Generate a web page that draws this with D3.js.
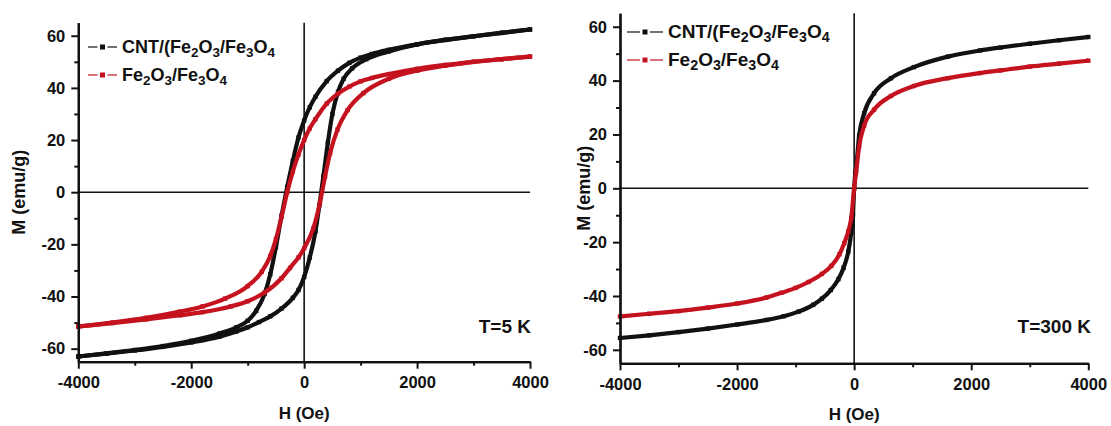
<!DOCTYPE html>
<html>
<head>
<meta charset="utf-8">
<script src="https://cdn.jsdelivr.net/npm/d3@7"></script>
<style>
  body { margin: 0; background: #fff; }
  text { font-family: "Liberation Sans", Arial, sans-serif; font-weight: bold; fill: #111; }
</style>
</head>
<body>
<div id="chart"></div>
<script>
// tick values
var hTicks = [-4000, -2000, 0, 2000, 4000];
var hMinor = [-3000, -1000, 1000, 3000];
var mTicks = [-60, -40, -20, 0, 20, 40, 60];
var mMinor = [-50, -30, -10, 10, 30, 50];

// T = 5 K, CNT/(Fe2O3/Fe3O4), [H (Oe), M (emu/g)]
var cnt5Down = [[4000,62.4],[3500,61.1],[3000,59.8],[2500,58.4],[2000,56.7],[1500,54.6],[1200,53.0],[1000,51.6],[800,49.6],[600,46.6],[400,42.6],[200,36.6],[100,32.6],[0,27.5],[-100,21],[-200,12],[-300,2],[-400,-9],[-500,-21],[-600,-31.5],[-700,-39],[-850,-45.5],[-1000,-49.3],[-1200,-51.8],[-1500,-54.2],[-2000,-57],[-2500,-59],[-3000,-60.5],[-3500,-61.8],[-4000,-63]];
var cnt5Up = [[-4000,-63],[-3500,-61.9],[-3000,-60.7],[-2500,-59.3],[-2000,-57.6],[-1500,-55.4],[-1200,-53.4],[-1000,-51.8],[-800,-49.8],[-600,-47.6],[-400,-44.6],[-200,-40.5],[-100,-37.5],[0,-32.5],[100,-25],[200,-15],[270,-5],[340,6],[420,19],[500,30],[600,38.5],[700,43.5],[850,47.5],[1100,51],[1500,54],[2000,56.7],[2500,58.4],[3000,59.8],[3500,61.1],[4000,62.4]];

// T = 5 K, Fe2O3/Fe3O4
var fe5Down = [[4000,52],[3500,51],[3000,50],[2500,48.8],[2000,47.3],[1500,45.3],[1200,43.8],[1000,42.5],[800,40.5],[600,37.8],[400,34],[200,28],[100,24.5],[0,20],[-100,14.5],[-200,8],[-300,0],[-400,-9.5],[-500,-18],[-600,-24.5],[-750,-30.5],[-1000,-36],[-1400,-40.8],[-1800,-43.8],[-2200,-45.8],[-2800,-48.2],[-3400,-50],[-4000,-51.5]];
var fe5Up = [[-4000,-51.5],[-3400,-50.2],[-2800,-48.8],[-2200,-47.2],[-1800,-46],[-1300,-43.8],[-1000,-41.8],[-700,-38.5],[-400,-33],[-250,-29],[-100,-25],[0,-21.5],[160,-14],[280,-4],[370,6],[460,15],[590,24],[770,31.5],[1050,38],[1500,43.5],[2000,46.6],[2500,48.5],[3000,50],[3500,51],[4000,52]];

// T = 300 K
var cnt300 = [[-4000,-55.6],[-3500,-54.6],[-3000,-53.4],[-2500,-52.1],[-2000,-50.6],[-1500,-48.9],[-1200,-47.5],[-950,-45.8],[-700,-43.3],[-550,-41],[-400,-37.8],[-270,-33.8],[-180,-29.5],[-100,-23.5],[-50,-16.5],[-20,-10],[0,0],[20,5.5],[40,9],[85,19.5],[170,27.8],[340,35.3],[630,40.9],[1020,45],[1600,48.9],[2150,51.2],[2500,52.3],[3000,53.7],[3500,55],[4000,56.2]];
var fe300 = [[-4000,-47.6],[-3500,-46.6],[-3000,-45.6],[-2500,-44.3],[-2000,-42.8],[-1500,-40.6],[-1240,-38.8],[-1000,-37],[-780,-34.8],[-550,-31.8],[-390,-28.8],[-250,-24.5],[-170,-20.4],[-100,-16],[-50,-11],[0,0],[35,6.2],[85,15.5],[170,23.2],[340,29.2],[630,34.3],[1020,38],[1600,40.9],[2150,42.8],[2500,43.8],[3000,45.2],[3500,46.3],[4000,47.4]];

var BLACK = "#111111", RED = "#c4121f";

var svg = d3.select("#chart").append("svg")
	.attr("width", 1111)
	.attr("height", 426);

svg.append("rect").attr("width", 1111).attr("height", 426).attr("fill", "#fff");

// legend text with subscripts: parts are [text, isSub]
var lab1 = [["CNT/(Fe",0],["2",1],["O",0],["3",1],["/Fe",0],["3",1],["O",0],["4",1]];
var lab2 = [["Fe",0],["2",1],["O",0],["3",1],["/Fe",0],["3",1],["O",0],["4",1]];

// plain hyphen minus like the original figure
function fmt(d) { return String(d); }

function drawPanel(p) {
	var g = svg.append("g");

	var x = d3.scaleLinear().domain([-4000, 4000]).range([p.x0, p.x1]);
	var y = d3.scaleLinear().domain([-65, 65]).range([p.yb, p.yt]);

	// zero lines
	g.append("line")
		.attr("x1", p.x0).attr("x2", p.x1)
		.attr("y1", y(0)).attr("y2", y(0))
		.attr("stroke", BLACK).attr("stroke-width", 1.6);
	g.append("line")
		.attr("x1", x(0)).attr("x2", x(0))
		.attr("y1", p.yt).attr("y2", p.yb)
		.attr("stroke", BLACK).attr("stroke-width", 1.6);

	var line = d3.line()
		.x(function(d){return x(d[0])})
		.y(function(d){return y(d[1])})
		.curve(d3.curveMonotoneX);

	p.series.forEach(function(s){
		var pts = s.data.slice().sort(function(a, b){return a[0] - b[0]});
		g.append("path")
			.attr("d", line(pts))
			.attr("fill", "none")
			.attr("stroke", s.color)
			.attr("stroke-width", 4.2)
			.attr("stroke-linejoin", "round");
		g.selectAll(null)
			.data(pts)
			.enter()
			.append("rect")
				.attr("x", function(d){return x(d[0]) - 2.2})
				.attr("y", function(d){return y(d[1]) - 2.2})
				.attr("width", 4.4).attr("height", 4.4)
				.attr("fill", s.color);
	});

	// axes
	g.append("g")
		.attr("transform", "translate(0," + p.yb + ")")
		.call(d3.axisBottom(x).tickValues(hTicks).tickSize(7).tickSizeOuter(0).tickPadding(8).tickFormat(fmt));
	g.append("g")
		.attr("transform", "translate(0," + p.yb + ")")
		.call(d3.axisBottom(x).tickValues(hMinor).tickSize(4).tickSizeOuter(0).tickFormat(""));
	g.append("g")
		.attr("transform", "translate(" + p.x0 + ",0)")
		.call(d3.axisLeft(y).tickValues(mTicks).tickSize(7).tickSizeOuter(0).tickPadding(6).tickFormat(fmt));
	g.append("g")
		.attr("transform", "translate(" + p.x0 + ",0)")
		.call(d3.axisLeft(y).tickValues(mMinor).tickSize(4).tickSizeOuter(0).tickFormat(""));

	g.selectAll(".domain").attr("stroke", BLACK).attr("stroke-width", 2.2);
	g.selectAll(".tick line").attr("stroke", BLACK).attr("stroke-width", 2);
	g.selectAll(".tick text")
		.attr("font-size", 16.5)
		.attr("font-family", "Liberation Sans, Arial, sans-serif")
		.attr("font-weight", "bold")
		.attr("fill", BLACK);

	// axis titles
	g.append("text")
		.attr("x", x(0)).attr("y", p.hy)
		.attr("text-anchor", "middle")
		.attr("font-size", 17)
		.text("H (Oe)");
	g.append("text")
		.attr("transform", "translate(" + p.mx + "," + y(0) + ") rotate(-90)")
		.attr("text-anchor", "middle")
		.attr("dy", "0.35em")
		.attr("font-size", 18)
		.text("M (emu/g)");

	// temperature
	g.append("text")
		.attr("x", p.tx).attr("y", p.ty)
		.attr("text-anchor", "end")
		.attr("font-size", p.tfs)
		.text(p.temp);

	// legend
	[[lab1, BLACK], [lab2, RED]].forEach(function(it, i){
		var ly = p.ly + i * p.lstep;
		var mid = (p.lx0 + p.lx1) / 2;
		g.append("line")
			.attr("x1", p.lx0).attr("x2", mid - 5)
			.attr("y1", ly).attr("y2", ly)
			.attr("stroke", it[1]).attr("stroke-width", 1.2);
		g.append("line")
			.attr("x1", mid + 5).attr("x2", p.lx1)
			.attr("y1", ly).attr("y2", ly)
			.attr("stroke", it[1]).attr("stroke-width", 1.2);
		g.append("rect")
			.attr("x", mid - 2.5).attr("y", ly - 2.5)
			.attr("width", 5).attr("height", 5)
			.attr("fill", it[1]);
		var t = g.append("text")
			.attr("x", p.lx1 + 5).attr("y", ly + 6)
			.attr("font-size", p.lfs);
		var down = false;
		it[0].forEach(function(part){
			var ts = t.append("tspan").text(part[0]);
			if (part[1] && !down) { ts.attr("dy", 4).attr("font-size", p.lfs * 0.75); down = true; }
			else if (part[1]) { ts.attr("font-size", p.lfs * 0.75); }
			else if (down) { ts.attr("dy", -4); down = false; }
		});
	});
}

drawPanel({
	x0: 78.3, x1: 530, yt: 22.7, yb: 361.7,
	hy: 419, mx: 19,
	tx: 531, ty: 333, tfs: 19, temp: "T=5 K",
	lx0: 88, lx1: 117, ly: 47, lstep: 28, lfs: 18,
	series: [
		{data: cnt5Down, color: BLACK},
		{data: cnt5Up, color: BLACK},
		{data: fe5Down, color: RED},
		{data: fe5Up, color: RED}
	]
});

drawPanel({
	x0: 620, x1: 1088.3, yt: 13.3, yb: 363.3,
	hy: 420, mx: 584,
	tx: 1091, ty: 333, tfs: 19, temp: "T=300 K",
	lx0: 627, lx1: 663, ly: 32, lstep: 28, lfs: 19,
	series: [
		{data: cnt300, color: BLACK},
		{data: fe300, color: RED}
	]
});
</script>
</body>
</html>
